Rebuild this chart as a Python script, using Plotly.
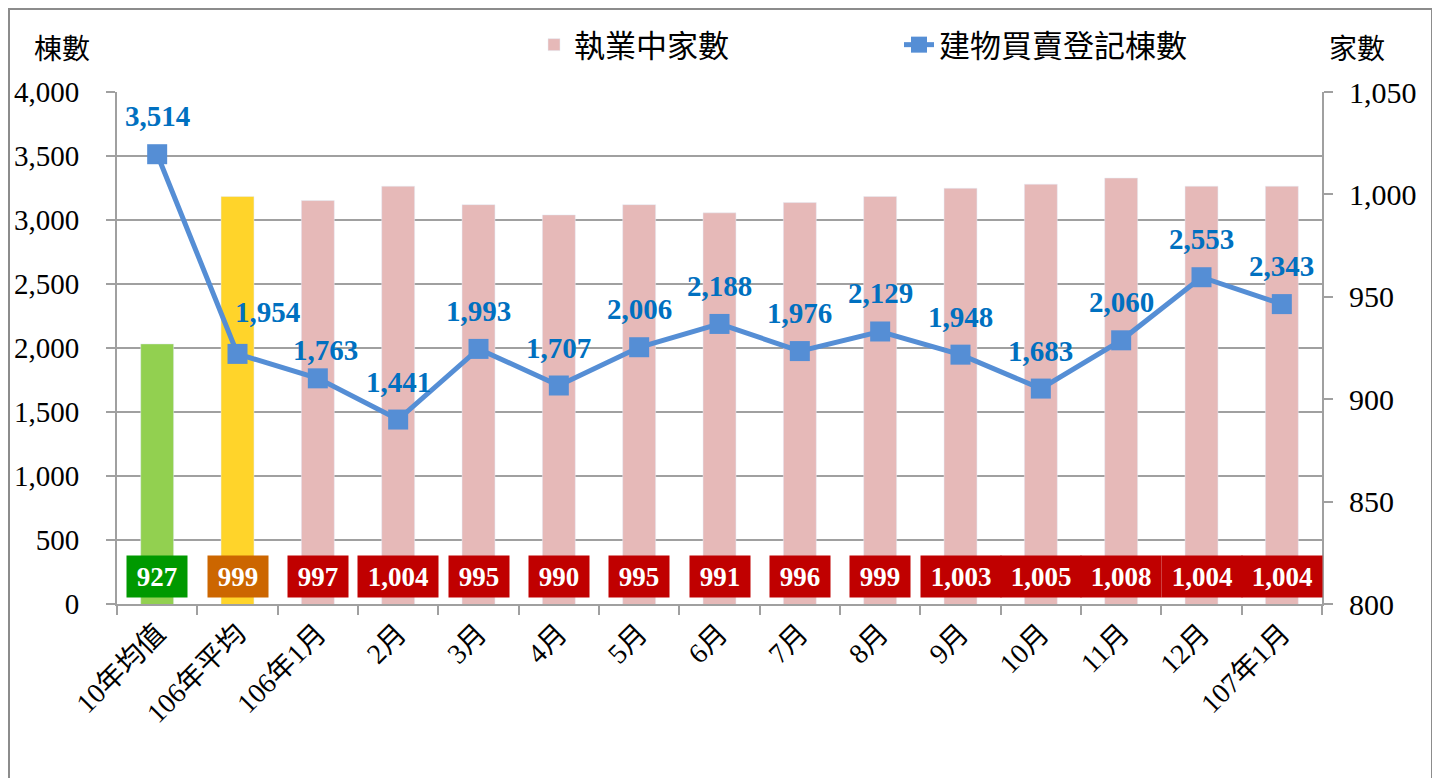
import plotly.graph_objects as go

categories = ["10年均值", "106年平均", "106年1月", "2月", "3月", "4月", "5月", "6月",
              "7月", "8月", "9月", "10月", "11月", "12月", "107年1月"]
firms = [927, 999, 997, 1004, 995, 990, 995, 991, 996, 999, 1003, 1005, 1008, 1004, 1004]
transfers = [3514, 1954, 1763, 1441, 1993, 1707, 2006, 2188, 1976, 2129, 1948, 1683, 2060, 2553, 2343]

bar_colors = ["#92D050", "#FFD42A"]
box_colors = ["#009900", "#CC6600"] + ["#C00000"] * 13
pink = "#E6B9B8"
line_color = "#558ED5"
label_blue = "#0070C0"
serif = "Liberation Serif, Noto Sans CJK TC, serif"

W, H = 1440, 778
OFFX, OFFY = 8, 8  # page offset of the plot div (body margin)


def px(x):
    return (x - OFFX) / W


def py(y):
    return 1 - (y - OFFY) / H


fig = go.Figure()

fig.add_trace(go.Bar(x=categories[:2], y=firms[:2], marker_color=bar_colors,
                     width=0.41, showlegend=False, yaxis="y", hoverinfo="skip"))
fig.add_trace(go.Bar(x=categories[2:], y=firms[2:], marker_color=pink, width=0.41,
                     name="執業中家數", yaxis="y"))
fig.add_trace(go.Scatter(x=categories, y=transfers, mode="lines+markers",
                         name="建物買賣登記棟數", yaxis="y2",
                         line=dict(color=line_color, width=5),
                         marker=dict(symbol="square", size=20, color=line_color)))

annotations = []
for i, (c, v) in enumerate(zip(categories, transfers)):
    xs, ys = 0, 20
    if i == 1:
        xs, ys = 30, 24
    elif i == 2:
        xs, ys = 8, 10
    annotations.append(dict(x=c, y=v, xref="x", yref="y2", text=f"{v:,}",
                            showarrow=False, yanchor="bottom", yshift=ys, xshift=xs,
                            font=dict(family=serif, size=29, color=label_blue, weight="bold")))
for c, v, bc in zip(categories, firms, box_colors):
    t = f"{v:,}"
    annotations.append(dict(x=c, y=py(576), xref="x", yref="paper", text=t,
                            showarrow=False, yanchor="middle", bgcolor=bc,
                            width=54 if len(t) <= 3 else 74, height=35, borderpad=3,
                            font=dict(family=serif, size=27, color="white", weight="bold")))
annotations.append(dict(x=px(62), y=py(49), xref="paper", yref="paper", text="棟數",
                        xanchor="center", yanchor="middle", showarrow=False,
                        font=dict(family=serif, size=28, color="black")))
annotations.append(dict(x=px(1357), y=py(49), xref="paper", yref="paper", text="家數",
                        xanchor="center", yanchor="middle", showarrow=False,
                        font=dict(family=serif, size=28, color="black")))

x0, x1 = px(117), px(1322)
y0, y1 = py(604), py(92)
grey = "#A0A0A0"

fig.update_layout(
    width=W, height=H,
    margin=dict(l=0, r=0, t=0, b=0, autoexpand=False),
    paper_bgcolor="white", plot_bgcolor="white",
    barmode="overlay",
    font=dict(family=serif, color="black"),
    xaxis=dict(domain=[x0, x1], type="category", range=[-0.5, len(categories) - 0.5],
               tickangle=-45, tickson="boundaries",
               ticks="outside", ticklen=9, tickcolor=grey, tickwidth=2, showline=True,
               linecolor=grey, linewidth=2, showgrid=False,
               tickfont=dict(family=serif, size=28, color="black")),
    yaxis=dict(domain=[y0, y1], side="right", range=[800, 1050], dtick=50,
               tickformat=",", showgrid=False, showline=True, linecolor=grey,
               linewidth=2, ticks="outside", ticklen=9, tickcolor=grey, tickwidth=2,
               ticklabelstandoff=10,
               tickfont=dict(family=serif, size=30, color="black")),
    yaxis2=dict(overlaying="y", side="left", range=[0, 4000], dtick=500,
                tickformat=",", showgrid=True, gridcolor=grey, gridwidth=2,
                showline=True, linecolor=grey, linewidth=2, ticks="outside",
                ticklen=9, tickcolor=grey, tickwidth=2, ticklabelstandoff=21, zeroline=False,
                tickfont=dict(family=serif, size=29, color="black")),
    legend=dict(orientation="h", x=px(534), y=py(45), yanchor="middle", xanchor="left",
                entrywidth=320, entrywidthmode="pixels",
                font=dict(family=serif, size=31, color="black"), bgcolor="rgba(0,0,0,0)"),
    annotations=annotations,
    shapes=[dict(type="rect", xref="paper", yref="paper", x0=1 / W, x1=px(1432),
                 y0=-0.05, y1=1 - 1 / H, line=dict(color="#8C8C8C", width=2),
                 fillcolor="rgba(0,0,0,0)", layer="below")],
)

fig.write_html("out.html")
